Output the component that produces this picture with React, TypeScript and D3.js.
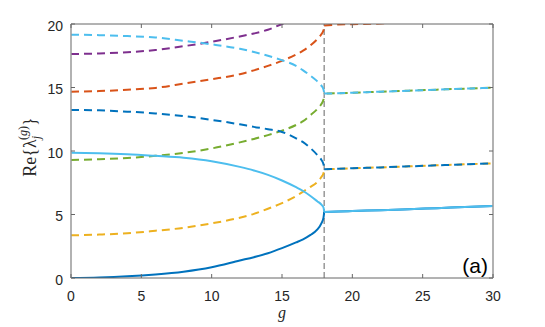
import React, { useEffect, useRef } from "react";
import * as d3 from "d3";

// coupling strength g
const gValues = [0, 2, 4, 6, 8, 10, 12, 13, 14, 15, 16, 16.5, 17, 17.5, 17.8, 17.95, 18, 19, 20, 22, 24, 26, 28, 30];

// Re{lambda_j} for each branch
const darkBlueSolid = [0, 0.04, 0.13, 0.28, 0.5, 0.85, 1.38, 1.64, 1.95, 2.35, 2.8, 3.05, 3.37, 3.8, 4.3, 4.75, 5.2, 5.23, 5.27, 5.34, 5.42, 5.5, 5.59, 5.67];
const lightBlueSolid = [9.87, 9.83, 9.75, 9.62, 9.47, 9.2, 8.75, 8.47, 8.12, 7.68, 7.15, 6.85, 6.48, 6.05, 5.78, 5.55, 5.2, 5.23, 5.27, 5.34, 5.42, 5.5, 5.59, 5.67];
const yellowDashed = [3.36, 3.42, 3.52, 3.72, 3.95, 4.3, 4.75, 5.05, 5.45, 5.9, 6.45, 6.8, 7.15, 7.55, 7.95, 8.25, 8.56, 8.6, 8.64, 8.71, 8.79, 8.87, 8.95, 9.03];
const darkBlueDashed = [13.23, 13.2, 13.1, 12.96, 12.75, 12.45, 12.1, 11.9, 11.72, 11.5, 11.0, 10.7, 10.25, 9.7, 9.3, 8.95, 8.56, 8.6, 8.64, 8.71, 8.79, 8.87, 8.95, 9.03];
const greenDashed = [9.29, 9.35, 9.45, 9.62, 9.85, 10.2, 10.68, 10.95, 11.25, 11.6, 12.05, 12.35, 12.8, 13.3, 13.7, 14.05, 14.52, 14.55, 14.59, 14.67, 14.75, 14.83, 14.91, 14.98];
const lightBlueDashed = [19.16, 19.12, 19.05, 18.94, 18.68, 18.4, 18.05, 17.8, 17.5, 17.15, 16.7, 16.35, 15.95, 15.5, 15.15, 14.85, 14.52, 14.55, 14.59, 14.67, 14.75, 14.83, 14.91, 14.98];
const orangeDashed = [14.67, 14.72, 14.82, 14.97, 15.3, 15.65, 16.05, 16.35, 16.7, 17.1, 17.6, 17.9, 18.3, 18.8, 19.2, 19.5, 19.88, 19.96, 19.99, 20.04, 20.15, 20.25, 20.35, 20.45];
const purpleDashed = [17.64, 17.68, 17.78, 17.95, 18.25, 18.6, 19.02, 19.25, 19.55, 20.0, 20.4, 20.65, null, null, null, null, null, null, null, null, null, null, null, null];

const xTicks = [0, 5, 10, 15, 20, 25, 30];
const yTicks = [0, 5, 10, 15, 20];
const gCritical = 18;

const App = () => {
  const chartRef = useRef(null);

  useEffect(() => {
    const W = 545;
    const H = 327;
    const left = 71, right = 493, top = 24, bottom = 278;

    d3.select(chartRef.current).select("svg").remove();

    const svg = d3
      .select(chartRef.current)
      .append("svg")
      .attr("width", W)
      .attr("height", H)
      .style("position", "absolute")
      .style("left", "0px")
      .style("top", "0px")
      .style("background", "#fff");

    const x = d3.scaleLinear().domain([0, 30]).range([left, right]);
    const y = d3.scaleLinear().domain([0, 20]).range([bottom, top]);

    svg
      .append("clipPath")
      .attr("id", "plotclip")
      .append("rect")
      .attr("x", left)
      .attr("y", top)
      .attr("width", right - left)
      .attr("height", bottom - top);

    const plot = svg.append("g").attr("clip-path", "url(#plotclip)");

    // critical coupling marker
    plot
      .append("line")
      .attr("x1", x(gCritical))
      .attr("x2", x(gCritical))
      .attr("y1", y(0))
      .attr("y2", y(20))
      .attr("stroke", "#999")
      .attr("stroke-width", 1.5)
      .attr("stroke-dasharray", "6,3");

    const line = d3
      .line()
      .defined((d) => d[1] != null)
      .x((d) => x(d[0]))
      .y((d) => y(d[1]))
      .curve(d3.curveMonotoneX);

    // later entries are drawn on top; "under" lines show only at dash edges after g_c
    const series = [
      { values: yellowDashed, color: "#EDB120", dashed: true, under: true },
      { values: greenDashed, color: "#77AC30", dashed: true, under: true },
      { values: orangeDashed, color: "#D95319", dashed: true, under: false },
      { values: purpleDashed, color: "#7E2F8E", dashed: true, under: false },
      { values: darkBlueSolid, color: "#0072BD", dashed: false, under: true },
      { values: lightBlueSolid, color: "#4DBEEE", dashed: false, under: false },
      { values: darkBlueDashed, color: "#0072BD", dashed: true, under: false },
      { values: lightBlueDashed, color: "#4DBEEE", dashed: true, under: false },
    ];

    const pts = (s) => gValues.map((g, i) => [g, s.values[i]]);

    // below the critical coupling
    series.forEach((s) => {
      plot
        .append("path")
        .datum(pts(s).filter((d) => d[0] <= gCritical))
        .attr("fill", "none")
        .attr("stroke", s.color)
        .attr("stroke-width", 2)
        .attr("stroke-dasharray", s.dashed ? "8,5" : null)
        .attr("d", line);
    });

    // above the critical coupling (branches coalesce)
    series.forEach((s) => {
      const d = pts(s).filter((p) => p[0] >= gCritical && p[1] != null);
      if (d.length < 2) return;
      plot
        .append("path")
        .datum(d)
        .attr("fill", "none")
        .attr("stroke", s.color)
        .attr("stroke-width", 2)
        .attr("stroke-dasharray", s.dashed ? "8,5" : null)
        .attr("stroke-dashoffset", s.under ? -2.5 : 0)
        .attr("d", line);
    });

    // axes box
    const axisColor = "#666";
    svg.append("line").attr("x1", left).attr("x2", right).attr("y1", bottom).attr("y2", bottom).attr("stroke", axisColor).attr("stroke-width", 1);
    svg.append("line").attr("x1", left).attr("x2", right).attr("y1", top).attr("y2", top).attr("stroke", axisColor).attr("stroke-width", 1);
    svg.append("line").attr("x1", left).attr("x2", left).attr("y1", top).attr("y2", bottom).attr("stroke", "#999").attr("stroke-width", 1.5);
    svg.append("line").attr("x1", right).attr("x2", right).attr("y1", top).attr("y2", bottom).attr("stroke", "#999").attr("stroke-width", 1.5);

    // ticks (inward) and labels
    const tickLen = 4;
    xTicks.forEach((t) => {
      svg.append("line").attr("x1", x(t)).attr("x2", x(t)).attr("y1", bottom).attr("y2", bottom - tickLen).attr("stroke", axisColor);
      svg.append("line").attr("x1", x(t)).attr("x2", x(t)).attr("y1", top).attr("y2", top + tickLen).attr("stroke", axisColor);
      svg
        .append("text")
        .attr("x", x(t))
        .attr("y", 301)
        .attr("text-anchor", "middle")
        .attr("font-family", "'Liberation Sans', Arial, sans-serif")
        .attr("font-size", 14)
        .attr("fill", "#262626")
        .text(t);
    });

    yTicks.forEach((t) => {
      svg.append("line").attr("x1", left).attr("x2", left + tickLen).attr("y1", y(t)).attr("y2", y(t)).attr("stroke", axisColor);
      svg.append("line").attr("x1", right).attr("x2", right - tickLen).attr("y1", y(t)).attr("y2", y(t)).attr("stroke", axisColor);
      svg
        .append("text")
        .attr("x", 63)
        .attr("y", y(t) + 6.5)
        .attr("text-anchor", "end")
        .attr("font-family", "'Liberation Sans', Arial, sans-serif")
        .attr("font-size", 14)
        .attr("fill", "#262626")
        .text(t);
    });

    // x-axis label
    svg
      .append("text")
      .attr("x", x(15))
      .attr("y", 318)
      .attr("text-anchor", "middle")
      .attr("font-family", "'Liberation Serif', 'DejaVu Serif', serif")
      .attr("font-style", "italic")
      .attr("font-size", 16)
      .attr("fill", "#262626")
      .text("g");

    // y-axis label Re{λ_j^(g)}
    const ylab = svg
      .append("text")
      .attr("transform", `translate(36,147) rotate(-90)`)
      .attr("text-anchor", "middle")
      .attr("font-family", "'Liberation Serif', 'DejaVu Serif', serif")
      .attr("font-size", 18)
      .attr("fill", "#262626");
    ylab.append("tspan").text("Re{λ");
    ylab.append("tspan").attr("font-size", 12).attr("font-style", "italic").attr("dy", 4).text("j");
    ylab.append("tspan").attr("font-size", 12).attr("dx", -4).attr("dy", -13).text("(");
    ylab.append("tspan").attr("font-size", 12).attr("font-style", "italic").text("g");
    ylab.append("tspan").attr("font-size", 12).text(")");
    ylab.append("tspan").attr("dy", 9).text("}");

    // panel label
    svg
      .append("text")
      .attr("x", 488)
      .attr("y", 273)
      .attr("text-anchor", "end")
      .attr("font-family", "'Liberation Sans', Arial, sans-serif")
      .attr("font-size", 21)
      .attr("fill", "#000")
      .text("(a)");
  }, []);

  return <div ref={chartRef}></div>;
};

export default App;
